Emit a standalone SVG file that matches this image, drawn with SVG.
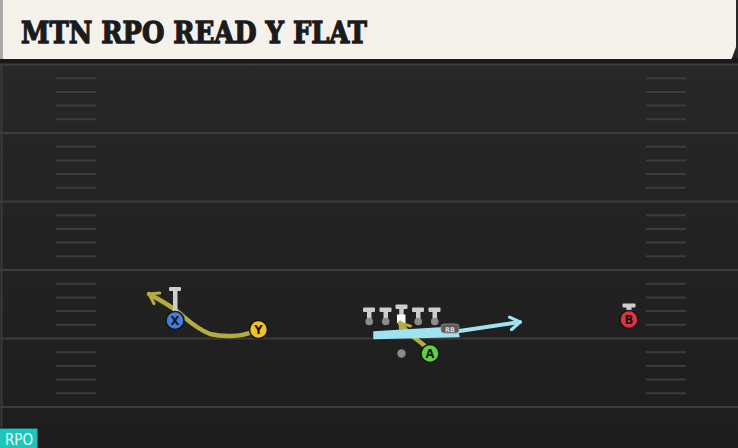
<svg xmlns="http://www.w3.org/2000/svg" width="738" height="448" viewBox="0 0 738 448">
<defs>
<linearGradient id="field" x1="0" y1="0" x2="0" y2="1">
<stop offset="0" stop-color="#292929"/>
<stop offset="1" stop-color="#1d1d1d"/>
</linearGradient>
<marker id="chevY" viewBox="0 0 10 10" refX="7" refY="5" markerWidth="3.4" markerHeight="3.4" orient="auto" markerUnits="strokeWidth">
<path d="M1 1 L7 5 L1 9" fill="none" stroke="#b3ad3e" stroke-width="2" stroke-linecap="round" stroke-linejoin="round"/>
</marker>
<marker id="chevB" viewBox="0 0 10 10" refX="7" refY="5" markerWidth="4" markerHeight="4" orient="auto" markerUnits="strokeWidth">
<path d="M1 1 L7 5 L1 9" fill="none" stroke="#9fe3f2" stroke-width="2" stroke-linecap="round" stroke-linejoin="round"/>
</marker>
</defs>
<style>
.yard{stroke:#3c3c3c;stroke-width:2}
.hash{stroke:#3c3c3c;stroke-width:2}
.pl{stroke:#151515;stroke-width:1.5}
.lbl{font-family:"DejaVu Sans","Liberation Sans",sans-serif;font-weight:700;font-size:11.5px;fill:#111;text-anchor:middle}
.tblk{fill:#cdcdcd}
.ball{fill:#8c8c8c}
.route{fill:none;stroke-linecap:round;stroke-linejoin:round}
</style>
<rect x="0" y="0" width="738" height="448" fill="url(#field)"/>
<rect x="0" y="58" width="738" height="6" fill="#1a1a1a"/>
<line x1="1.5" y1="64" x2="1.5" y2="448" stroke="#3a3a3a" stroke-width="2"/>
<g id="field-lines">
<line class="yard" x1="0" y1="64.5" x2="738" y2="64.5"/>
<line class="yard" x1="0" y1="133" x2="738" y2="133"/>
<line class="yard" x1="0" y1="201.5" x2="738" y2="201.5"/>
<line class="yard" x1="0" y1="270" x2="738" y2="270"/>
<line class="yard" x1="0" y1="338.5" x2="738" y2="338.5"/>
<line class="yard" x1="0" y1="407" x2="738" y2="407"/>
<g id="hashes-left">
<line class="hash" x1="56" y1="78.2" x2="96" y2="78.2"/><line class="hash" x1="56" y1="91.9" x2="96" y2="91.9"/><line class="hash" x1="56" y1="105.6" x2="96" y2="105.6"/><line class="hash" x1="56" y1="119.3" x2="96" y2="119.3"/>
<line class="hash" x1="56" y1="146.7" x2="96" y2="146.7"/><line class="hash" x1="56" y1="160.4" x2="96" y2="160.4"/><line class="hash" x1="56" y1="174.1" x2="96" y2="174.1"/><line class="hash" x1="56" y1="187.8" x2="96" y2="187.8"/>
<line class="hash" x1="56" y1="215.2" x2="96" y2="215.2"/><line class="hash" x1="56" y1="228.9" x2="96" y2="228.9"/><line class="hash" x1="56" y1="242.6" x2="96" y2="242.6"/><line class="hash" x1="56" y1="256.3" x2="96" y2="256.3"/>
<line class="hash" x1="56" y1="283.7" x2="96" y2="283.7"/><line class="hash" x1="56" y1="297.4" x2="96" y2="297.4"/><line class="hash" x1="56" y1="311.1" x2="96" y2="311.1"/><line class="hash" x1="56" y1="324.8" x2="96" y2="324.8"/>
<line class="hash" x1="56" y1="352.2" x2="96" y2="352.2"/><line class="hash" x1="56" y1="365.9" x2="96" y2="365.9"/><line class="hash" x1="56" y1="379.6" x2="96" y2="379.6"/><line class="hash" x1="56" y1="393.3" x2="96" y2="393.3"/>
</g>
<g id="hashes-right">
<line class="hash" x1="646" y1="78.2" x2="686" y2="78.2"/><line class="hash" x1="646" y1="91.9" x2="686" y2="91.9"/><line class="hash" x1="646" y1="105.6" x2="686" y2="105.6"/><line class="hash" x1="646" y1="119.3" x2="686" y2="119.3"/>
<line class="hash" x1="646" y1="146.7" x2="686" y2="146.7"/><line class="hash" x1="646" y1="160.4" x2="686" y2="160.4"/><line class="hash" x1="646" y1="174.1" x2="686" y2="174.1"/><line class="hash" x1="646" y1="187.8" x2="686" y2="187.8"/>
<line class="hash" x1="646" y1="215.2" x2="686" y2="215.2"/><line class="hash" x1="646" y1="228.9" x2="686" y2="228.9"/><line class="hash" x1="646" y1="242.6" x2="686" y2="242.6"/><line class="hash" x1="646" y1="256.3" x2="686" y2="256.3"/>
<line class="hash" x1="646" y1="283.7" x2="686" y2="283.7"/><line class="hash" x1="646" y1="297.4" x2="686" y2="297.4"/><line class="hash" x1="646" y1="311.1" x2="686" y2="311.1"/><line class="hash" x1="646" y1="324.8" x2="686" y2="324.8"/>
<line class="hash" x1="646" y1="352.2" x2="686" y2="352.2"/><line class="hash" x1="646" y1="365.9" x2="686" y2="365.9"/><line class="hash" x1="646" y1="379.6" x2="686" y2="379.6"/><line class="hash" x1="646" y1="393.3" x2="686" y2="393.3"/>
</g>
</g>
<g id="header">
<path d="M0 0 H736 V47 L731.5 59 H0 Z" fill="#f5f2ec"/>
<rect x="0" y="0" width="3" height="59" fill="#a9a9a9"/>
<text x="21" y="43" font-family="DejaVu Serif, Liberation Serif, serif" font-weight="700" font-size="29" fill="#1b1b1b" stroke="#1b1b1b" stroke-width="1.3" stroke-linejoin="miter" textLength="346" lengthAdjust="spacingAndGlyphs">MTN RPO READ Y FLAT</text>
</g>
<g id="oline">
<g id="lt"><rect class="tblk" x="363" y="307.5" width="12" height="4.5" rx="1"/><rect class="tblk" x="367" y="311" width="4.5" height="8"/><circle class="ball" cx="369.2" cy="321.5" r="3.8"/></g>
<g id="lg"><rect class="tblk" x="379.5" y="307.5" width="12" height="4.5" rx="1"/><rect class="tblk" x="383.5" y="311" width="4.5" height="8"/><circle class="ball" cx="385.7" cy="321.5" r="3.8"/></g>
<g id="c"><rect class="tblk" x="395.5" y="304.5" width="12" height="4.5" rx="1"/><rect class="tblk" x="399.2" y="308" width="4.5" height="8"/><rect x="397" y="314.5" width="8.5" height="8.5" fill="#ffffff"/></g>
<g id="rg"><rect class="tblk" x="412" y="307.5" width="12" height="4.5" rx="1"/><rect class="tblk" x="416" y="311" width="4.5" height="8"/><circle class="ball" cx="418.2" cy="321.5" r="3.8"/></g>
<g id="rt"><rect class="tblk" x="428.5" y="307.5" width="12" height="4.5" rx="1"/><rect class="tblk" x="432.5" y="311" width="4.5" height="8"/><circle class="ball" cx="434.7" cy="321.5" r="3.8"/></g>
</g>
<g id="connectors">
<path class="route" d="M252 332 C240 337 222 337 210 334 C195 328 188 320 178 312 C168 304 160 300 149 294" stroke="#b3ad3e" stroke-width="4.5" marker-end="url(#chevY)"/>
<path class="route" d="M425 346 C418 340 410 335 405 329 L400 323" stroke="#b3ad3e" stroke-width="4.5" marker-end="url(#chevY)"/>
<path d="M374 332 L456 327 L459 336.5 L374 338.5 Z" fill="#9fe3f2" stroke="#9fe3f2" stroke-width="1.5" stroke-linejoin="round"/>
<path class="route" d="M456 331.5 L520 322" stroke="#9fe3f2" stroke-width="4" marker-end="url(#chevB)"/>
</g>
<g id="rb-label">
<rect x="441" y="324" width="18" height="9" rx="3" fill="#5a5a5a" stroke="#9a9a9a" stroke-width="0.8"/>
<text x="450" y="331.5" font-family="DejaVu Sans, sans-serif" font-size="6.5" font-weight="700" fill="#dddddd" text-anchor="middle">RB</text>
</g>
<g id="X">
<rect class="tblk" x="169" y="287" width="12" height="4" rx="1"/><rect class="tblk" x="173" y="290" width="4.5" height="22"/>
<circle class="pl" cx="175" cy="320.5" r="9" fill="#3d7fe0"/>
<text class="lbl" x="175" y="324.7">X</text>
</g>
<g id="Y">
<circle class="pl" cx="258.5" cy="329.5" r="9" fill="#f6c21c"/>
<text class="lbl" x="258.5" y="333.7">Y</text>
</g>
<g id="A">
<circle class="pl" cx="430" cy="353.5" r="9" fill="#5fd33a"/>
<text class="lbl" x="430" y="357.7">A</text>
</g>
<g id="qb-dot"><circle cx="401.5" cy="353.5" r="4.2" fill="#8a8a8a"/></g>
<g id="B">
<rect class="tblk" x="622.5" y="303.5" width="13" height="4" rx="1"/><rect class="tblk" x="626.5" y="306" width="5" height="6"/>
<circle class="pl" cx="629" cy="319.5" r="9" fill="#e2323e"/>
<text class="lbl" x="629" y="323.7">B</text>
</g>
<g id="rpo-badge">
<rect x="0" y="427.5" width="38.5" height="20.5" fill="#111"/>
<rect x="0" y="428.5" width="37.5" height="19.5" fill="#1cc6ba"/>
<text x="5" y="445" font-family="DejaVu Sans Condensed, DejaVu Sans, sans-serif" font-size="15.5" fill="#f0fffd" textLength="28" lengthAdjust="spacingAndGlyphs">RPO</text>
</g>
</svg>
